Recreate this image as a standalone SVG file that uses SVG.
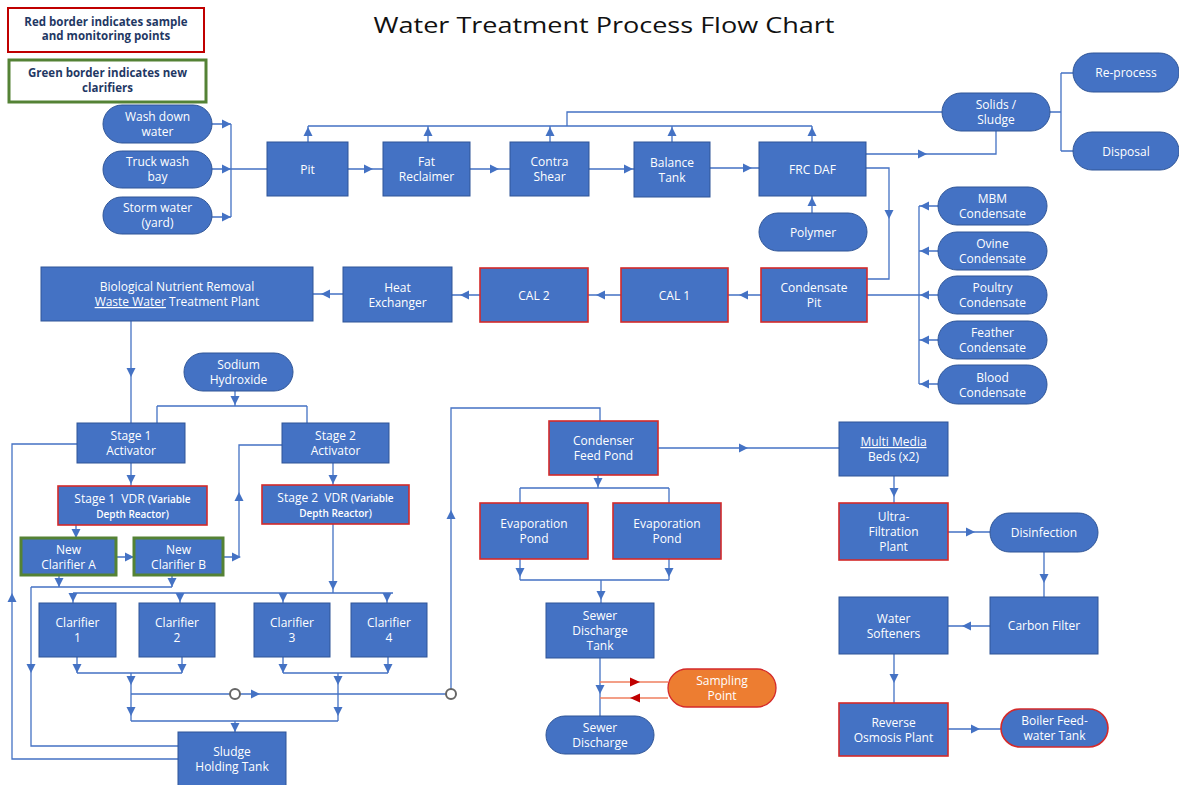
<svg xmlns="http://www.w3.org/2000/svg" xmlns:xlink="http://www.w3.org/1999/xlink" width="1179" height="785" viewBox="0 0 1179 785">
<style>
.n{fill:#4472C4;stroke:#2F5597;stroke-width:1}
.r{stroke:#D42A2A;stroke-width:1.6}
.g{stroke:#548235;stroke-width:3}
.t{font-family:'Open Sans','Liberation Sans',sans-serif;font-size:12px;fill:#fff;text-anchor:middle}
.s{font-size:10px;font-weight:600}
.lg{font-family:'Open Sans','Liberation Sans',sans-serif;font-size:11.5px;font-weight:bold;fill:#1F3864;text-anchor:middle}
.c{fill:none;stroke:#4472C4;stroke-width:1.3}
.cr{fill:none;stroke:#F08060;stroke-width:1.3}
.v{fill:#fff;stroke:#666;stroke-width:2}
</style>
<defs>
<path id="ah" d="M0,0 L-9,-4.5 L-9,4.5 Z" fill="#4472C4"/>
<path id="ahr" d="M0,0 L-10,-4.5 L-10,4.5 Z" fill="#C00000"/>
</defs>
<rect width="1179" height="785" fill="#fff"/>
<text x="604" y="33" font-family="'Open Sans','Liberation Sans',sans-serif" font-size="22" fill="#111" text-anchor="middle" textLength="461" lengthAdjust="spacingAndGlyphs">Water Treatment Process Flow Chart</text>

<g id="connectors">
<path class="c" d="M212,124H231M212,169H267M212,217H231M231,124V217"/>
<use href="#ah" transform="translate(231,124)"/><use href="#ah" transform="translate(231,169)"/><use href="#ah" transform="translate(231,217)"/>
<path class="c" d="M348,169H383M470,169H510M589,169H634M710,168H759"/>
<use href="#ah" transform="translate(373,169)"/><use href="#ah" transform="translate(499,169)"/><use href="#ah" transform="translate(633,169)"/><use href="#ah" transform="translate(752,168)"/>
<path class="c" d="M308,126H812M308,142V126M428,142V126M550,142V126M672,142V126M812,142V126M567,126V112H942"/>
<use href="#ah" transform="translate(308,127) rotate(270)"/><use href="#ah" transform="translate(428,127) rotate(270)"/><use href="#ah" transform="translate(550,127) rotate(270)"/><use href="#ah" transform="translate(672,127) rotate(270)"/><use href="#ah" transform="translate(812,127) rotate(270)"/>
<path class="c" d="M866,154H996V131"/>
<use href="#ah" transform="translate(927,154)"/>
<path class="c" d="M1050,112H1061M1061,73V151M1061,73H1073M1061,151H1073"/>
<path class="c" d="M812,213V196"/>
<use href="#ah" transform="translate(812,197) rotate(270)"/>
<path class="c" d="M866,168H889V279H867"/>
<use href="#ah" transform="translate(889,219) rotate(90)"/>
<path class="c" d="M919,206V384M938,206H919M938,251H919M938,295H867M938,340H919M938,384H919"/>
<use href="#ah" transform="translate(920,206) rotate(180)"/><use href="#ah" transform="translate(920,251) rotate(180)"/><use href="#ah" transform="translate(920,295) rotate(180)"/><use href="#ah" transform="translate(920,340) rotate(180)"/><use href="#ah" transform="translate(920,384) rotate(180)"/>
<path class="c" d="M761,295H728M621,295H588M480,295H452M343,294H313"/>
<use href="#ah" transform="translate(739,295) rotate(180)"/><use href="#ah" transform="translate(596,295) rotate(180)"/><use href="#ah" transform="translate(460,295) rotate(180)"/><use href="#ah" transform="translate(321,294) rotate(180)"/>
<path class="c" d="M131,321V423"/>
<use href="#ah" transform="translate(131,377) rotate(90)"/>
<path class="c" d="M235,391V406M157,406H307M157,406V423M307,406V423"/>
<use href="#ah" transform="translate(235,405) rotate(90)"/>
<path class="c" d="M131,463V486M333,463V485M76,525V538M116,557H134"/>
<use href="#ah" transform="translate(131,484) rotate(90)"/><use href="#ah" transform="translate(333,484) rotate(90)"/><use href="#ah" transform="translate(76,538) rotate(90)"/><use href="#ah" transform="translate(134,557)"/>
<path class="c" d="M223,557H239V445H282"/>
<use href="#ah" transform="translate(241,557)"/><use href="#ah" transform="translate(239,492) rotate(270)"/>
<path class="c" d="M77,444H12V759H178"/>
<use href="#ah" transform="translate(12,593) rotate(270)"/>
<path class="c" d="M59,575V587M172,575V587M31,587H172M31,587V746H178"/>
<use href="#ah" transform="translate(59,587) rotate(90)"/><use href="#ah" transform="translate(172,587) rotate(90)"/><use href="#ah" transform="translate(31,673) rotate(90)"/>
<path class="c" d="M333,524V593M73,593H393M73,593V603M180,593V603M283,593V603M387,593V603"/>
<use href="#ah" transform="translate(333,590) rotate(90)"/><use href="#ah" transform="translate(73,602) rotate(90)"/><use href="#ah" transform="translate(180,602) rotate(90)"/><use href="#ah" transform="translate(283,602) rotate(90)"/><use href="#ah" transform="translate(387,602) rotate(90)"/>
<path class="c" d="M77,657V673M182,657V673M77,673H182M283,657V673M388,657V673M283,673H388"/>
<use href="#ah" transform="translate(77,673) rotate(90)"/><use href="#ah" transform="translate(182,673) rotate(90)"/><use href="#ah" transform="translate(283,673) rotate(90)"/><use href="#ah" transform="translate(388,673) rotate(90)"/>
<path class="c" d="M131,673V721M338,673V721M131,721H338M235,721V732M131,694H230M240,694H446M451,689V408H600V421"/>
<use href="#ah" transform="translate(131,685) rotate(90)"/><use href="#ah" transform="translate(131,716) rotate(90)"/><use href="#ah" transform="translate(338,685) rotate(90)"/><use href="#ah" transform="translate(338,716) rotate(90)"/><use href="#ah" transform="translate(235,732) rotate(90)"/><use href="#ah" transform="translate(260,694)"/><use href="#ah" transform="translate(451,510) rotate(270)"/>
<circle class="v" cx="235" cy="694" r="5"/>
<circle class="v" cx="451" cy="694" r="5"/>
<path class="c" d="M658,448H839"/>
<use href="#ah" transform="translate(748,448)"/>
<path class="c" d="M598,475V488M520,488H669M520,488V503M669,488V503M520,559V580M669,559V580M520,580H669M601,580V603M600,658V716"/>
<use href="#ah" transform="translate(598,487) rotate(90)"/><use href="#ah" transform="translate(520,577) rotate(90)"/><use href="#ah" transform="translate(669,577) rotate(90)"/><use href="#ah" transform="translate(601,600) rotate(90)"/><use href="#ah" transform="translate(600,694) rotate(90)"/>
<path class="cr" d="M600,682H668M668,698H600"/>
<use href="#ahr" transform="translate(640,682)"/><use href="#ahr" transform="translate(630,698) rotate(180)"/>
<path class="c" d="M894,476V503M948,532H990M1044,552V597M990,626H948M894,654V703M948,729H1001"/>
<use href="#ah" transform="translate(894,497) rotate(90)"/><use href="#ah" transform="translate(975,532)"/><use href="#ah" transform="translate(1044,583) rotate(90)"/><use href="#ah" transform="translate(962,626) rotate(180)"/><use href="#ah" transform="translate(894,683) rotate(90)"/><use href="#ah" transform="translate(980,729)"/>
</g>

<g id="legend-red"><rect x="8" y="8" width="196" height="44" fill="#fff" stroke="#C00000" stroke-width="2"/><text class="lg" x="106"><tspan x="106" y="26">Red border indicates sample</tspan><tspan x="106" y="40">and monitoring points</tspan></text></g>
<g id="legend-green"><rect x="9" y="60" width="197" height="42" fill="#fff" stroke="#548235" stroke-width="3"/><text class="lg"><tspan x="107.5" y="77">Green border indicates new</tspan><tspan x="107.5" y="92">clarifiers</tspan></text></g>

<g id="wash"><rect class="n" x="103" y="105" width="109" height="38" rx="19"/><text class="t"><tspan x="157.5" y="121">Wash down</tspan><tspan x="157.5" y="136">water</tspan></text></g>
<g id="truck"><rect class="n" x="103" y="151" width="109" height="37" rx="18.5"/><text class="t"><tspan x="157.5" y="166">Truck wash</tspan><tspan x="157.5" y="181">bay</tspan></text></g>
<g id="storm"><rect class="n" x="103" y="197" width="109" height="37" rx="18.5"/><text class="t"><tspan x="157.5" y="212">Storm water</tspan><tspan x="157.5" y="227">(yard)</tspan></text></g>
<g id="pit"><rect class="n" x="267" y="142" width="81" height="54"/><text class="t" x="307.5" y="173.5">Pit</text></g>
<g id="fat"><rect class="n" x="383" y="142" width="87" height="54"/><text class="t"><tspan x="426.5" y="166">Fat</tspan><tspan x="426.5" y="181">Reclaimer</tspan></text></g>
<g id="contra"><rect class="n" x="510" y="142" width="79" height="54"/><text class="t"><tspan x="549.5" y="166">Contra</tspan><tspan x="549.5" y="181">Shear</tspan></text></g>
<g id="balance"><rect class="n" x="634" y="142" width="76" height="55"/><text class="t"><tspan x="672" y="166.5">Balance</tspan><tspan x="672" y="181.5">Tank</tspan></text></g>
<g id="frcdaf"><rect class="n" x="759" y="142" width="107" height="54"/><text class="t" x="812.5" y="173.5">FRC DAF</text></g>
<g id="polymer"><rect class="n" x="759" y="213" width="108" height="38" rx="19"/><text class="t" x="813" y="236.5">Polymer</text></g>
<g id="solids"><rect class="n" x="942" y="93" width="108" height="38" rx="19"/><text class="t"><tspan x="996" y="109">Solids /</tspan><tspan x="996" y="124">Sludge</tspan></text></g>
<g id="reprocess"><rect class="n" x="1073" y="53" width="106" height="39" rx="19.5"/><text class="t" x="1126" y="77">Re-process</text></g>
<g id="disposal"><rect class="n" x="1073" y="132" width="106" height="38" rx="19"/><text class="t" x="1126" y="155.5">Disposal</text></g>
<g id="mbm"><rect class="n" x="938" y="187" width="109" height="38" rx="19"/><text class="t"><tspan x="992.5" y="203">MBM</tspan><tspan x="992.5" y="218">Condensate</tspan></text></g>
<g id="ovine"><rect class="n" x="938" y="232" width="109" height="38" rx="19"/><text class="t"><tspan x="992.5" y="248">Ovine</tspan><tspan x="992.5" y="263">Condensate</tspan></text></g>
<g id="poultry"><rect class="n" x="938" y="276" width="109" height="38" rx="19"/><text class="t"><tspan x="992.5" y="292">Poultry</tspan><tspan x="992.5" y="307">Condensate</tspan></text></g>
<g id="feather"><rect class="n" x="938" y="321" width="109" height="38" rx="19"/><text class="t"><tspan x="992.5" y="337">Feather</tspan><tspan x="992.5" y="352">Condensate</tspan></text></g>
<g id="blood"><rect class="n" x="938" y="365" width="109" height="39" rx="19.5"/><text class="t"><tspan x="992.5" y="381.5">Blood</tspan><tspan x="992.5" y="396.5">Condensate</tspan></text></g>
<g id="condpit"><rect class="n r" x="761" y="268" width="106" height="54"/><text class="t"><tspan x="814" y="292">Condensate</tspan><tspan x="814" y="307">Pit</tspan></text></g>
<g id="cal1"><rect class="n r" x="621" y="268" width="107" height="54"/><text class="t" x="674.5" y="299.5">CAL 1</text></g>
<g id="cal2"><rect class="n r" x="480" y="268" width="108" height="54"/><text class="t" x="534" y="299.5">CAL 2</text></g>
<g id="heatex"><rect class="n" x="343" y="267" width="109" height="55"/><text class="t"><tspan x="397.5" y="291.5">Heat</tspan><tspan x="397.5" y="306.5">Exchanger</tspan></text></g>
<g id="bnr"><rect class="n" x="41" y="267" width="272" height="54"/><text class="t"><tspan x="177" y="291">Biological Nutrient Removal</tspan><tspan x="177" y="306"><tspan text-decoration="underline">Waste Water</tspan> Treatment Plant</tspan></text></g>
<g id="naoh"><rect class="n" x="184" y="353" width="109" height="38" rx="19"/><text class="t"><tspan x="238.5" y="369">Sodium</tspan><tspan x="238.5" y="384">Hydroxide</tspan></text></g>
<g id="stage1"><rect class="n" x="77" y="423" width="108" height="40"/><text class="t"><tspan x="131" y="440">Stage 1</tspan><tspan x="131" y="455">Activator</tspan></text></g>
<g id="stage2"><rect class="n" x="282" y="423" width="107" height="40"/><text class="t"><tspan x="335.5" y="440">Stage 2</tspan><tspan x="335.5" y="455">Activator</tspan></text></g>
<g id="vdr1"><rect class="n r" x="58" y="486" width="149" height="39"/><text class="t"><tspan x="132.5" y="502.5">Stage 1&#160; VDR <tspan class="s">(Variable</tspan></tspan><tspan class="s" x="132.5" y="517.5">Depth Reactor)</tspan></text></g>
<g id="vdr2"><rect class="n r" x="262" y="485" width="147" height="39"/><text class="t"><tspan x="335.5" y="501.5">Stage 2&#160; VDR <tspan class="s">(Variable</tspan></tspan><tspan class="s" x="335.5" y="516.5">Depth Reactor)</tspan></text></g>
<g id="newA"><rect class="n g" x="21" y="538" width="95" height="37"/><text class="t"><tspan x="68.5" y="553.5">New</tspan><tspan x="68.5" y="568.5">Clarifier A</tspan></text></g>
<g id="newB"><rect class="n g" x="134" y="538" width="89" height="37"/><text class="t"><tspan x="178.5" y="553.5">New</tspan><tspan x="178.5" y="568.5">Clarifier B</tspan></text></g>
<g id="clar1"><rect class="n" x="39" y="603" width="77" height="54"/><text class="t"><tspan x="77.5" y="627">Clarifier</tspan><tspan x="77.5" y="642">1</tspan></text></g>
<g id="clar2"><rect class="n" x="139" y="603" width="76" height="54"/><text class="t"><tspan x="177" y="627">Clarifier</tspan><tspan x="177" y="642">2</tspan></text></g>
<g id="clar3"><rect class="n" x="254" y="603" width="76" height="54"/><text class="t"><tspan x="292" y="627">Clarifier</tspan><tspan x="292" y="642">3</tspan></text></g>
<g id="clar4"><rect class="n" x="351" y="603" width="76" height="54"/><text class="t"><tspan x="389" y="627">Clarifier</tspan><tspan x="389" y="642">4</tspan></text></g>
<g id="sludge"><rect class="n" x="178" y="732" width="108" height="56"/><text class="t"><tspan x="232" y="756">Sludge</tspan><tspan x="232" y="771">Holding Tank</tspan></text></g>
<g id="cfp"><rect class="n r" x="549" y="421" width="109" height="54"/><text class="t"><tspan x="603.5" y="445">Condenser</tspan><tspan x="603.5" y="460">Feed Pond</tspan></text></g>
<g id="evap1"><rect class="n r" x="480" y="503" width="108" height="56"/><text class="t"><tspan x="534" y="528">Evaporation</tspan><tspan x="534" y="543">Pond</tspan></text></g>
<g id="evap2"><rect class="n r" x="613" y="503" width="108" height="56"/><text class="t"><tspan x="667" y="528">Evaporation</tspan><tspan x="667" y="543">Pond</tspan></text></g>
<g id="sewertank"><rect class="n" x="546" y="603" width="108" height="55"/><text class="t"><tspan x="600" y="619.5">Sewer</tspan><tspan x="600" y="634.5">Discharge</tspan><tspan x="600" y="649.5">Tank</tspan></text></g>
<g id="sampling"><rect x="668" y="669" width="108" height="38" rx="19" fill="#ED7D31" stroke="#D42A2A" stroke-width="1.3"/><text class="t"><tspan x="722" y="685">Sampling</tspan><tspan x="722" y="700">Point</tspan></text></g>
<g id="sewer"><rect class="n" x="546" y="716" width="108" height="38" rx="19"/><text class="t"><tspan x="600" y="732">Sewer</tspan><tspan x="600" y="747">Discharge</tspan></text></g>
<g id="mmb"><rect class="n" x="839" y="422" width="109" height="54"/><text class="t"><tspan x="893.5" y="446" text-decoration="underline">Multi Media</tspan><tspan x="893.5" y="461">Beds (x2)</tspan></text></g>
<g id="uf"><rect class="n r" x="839" y="503" width="109" height="57"/><text class="t"><tspan x="893.5" y="520.5">Ultra-</tspan><tspan x="893.5" y="535.5">Filtration</tspan><tspan x="893.5" y="550.5">Plant</tspan></text></g>
<g id="disinfection"><rect class="n" x="990" y="513" width="108" height="39" rx="19.5"/><text class="t" x="1044" y="537">Disinfection</text></g>
<g id="carbon"><rect class="n" x="990" y="597" width="108" height="57"/><text class="t" x="1044" y="630">Carbon Filter</text></g>
<g id="softeners"><rect class="n" x="839" y="597" width="109" height="57"/><text class="t"><tspan x="893.5" y="622.5">Water</tspan><tspan x="893.5" y="637.5">Softeners</tspan></text></g>
<g id="ro"><rect class="n r" x="839" y="703" width="109" height="53"/><text class="t"><tspan x="893.5" y="726.5">Reverse</tspan><tspan x="893.5" y="741.5">Osmosis Plant</tspan></text></g>
<g id="boiler"><rect class="n r" x="1001" y="709" width="107" height="38" rx="19"/><text class="t"><tspan x="1054.5" y="725">Boiler Feed-</tspan><tspan x="1054.5" y="740">water Tank</tspan></text></g>
</svg>
